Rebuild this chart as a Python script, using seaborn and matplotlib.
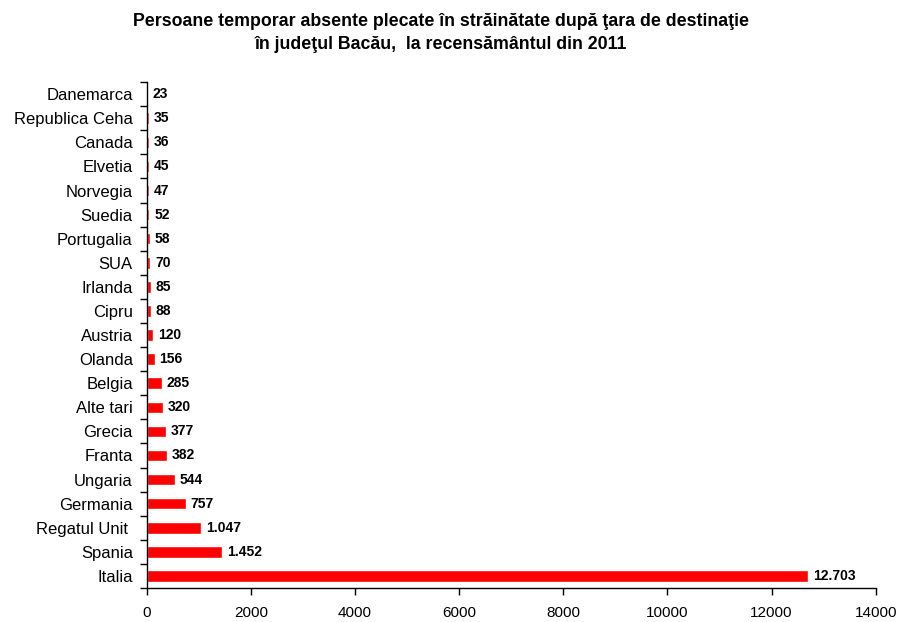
import matplotlib
matplotlib.use("Agg")
import matplotlib.pyplot as plt
import seaborn as sns
import numpy as np
import pandas as pd

# Date: persoane temporar absente, judetul Bacau, 2011
tari = ['Danemarca', 'Republica Ceha', 'Canada', 'Elvetia', 'Norvegia', 'Suedia',
        'Portugalia', 'SUA', 'Irlanda', 'Cipru', 'Austria', 'Olanda', 'Belgia',
        'Alte tari', 'Grecia', 'Franta', 'Ungaria', 'Germania', 'Regatul Unit ',
        'Spania', 'Italia']
persoane = [23, 35, 36, 45, 47, 52, 58, 70, 85, 88, 120, 156, 285, 320, 377,
            382, 544, 757, 1047, 1452, 12703]
x_ticks = [0, 2000, 4000, 6000, 8000, 10000, 12000, 14000]

df = pd.DataFrame({'tara': tari, 'persoane': persoane})

sns.set_style('white')
plt.rcParams['font.family'] = ['Liberation Sans', 'DejaVu Sans']
plt.rcParams['text.color'] = 'black'
plt.rcParams['xtick.color'] = 'black'
plt.rcParams['ytick.color'] = 'black'

fig = plt.figure(figsize=(9, 6.22), dpi=100)
ax = fig.add_axes([0.163, 0.0547, 0.81, 0.8133])

sns.barplot(data=df, x='persoane', y='tara', orient='h', color='#ff0000',
            saturation=1, width=0.48, ax=ax)

# etichete valori
for i, v in enumerate(persoane):
    txt = f'{v:,}'.replace(',', '.')
    ax.text(v + 90, i, txt, va='center', ha='left', fontsize=10,
            fontweight='bold', color='black')

ax.set_xlim(0, 14000)
ax.set_ylim(len(tari) - 0.5, -0.5)
ax.set_xticks(x_ticks)
ax.set_xticklabels([str(t) for t in x_ticks], fontsize=11)
ax.set_xlabel('')
ax.set_ylabel('')
ax.tick_params(axis='y', which='major', left=False, length=0, labelsize=12, pad=10)
ax.set_yticks(np.arange(-0.5, len(tari), 1), minor=True)
ax.tick_params(axis='y', which='minor', left=True, length=5, width=1,
               color='black', direction='out')
ax.tick_params(axis='x', bottom=True, length=5, width=1, color='black',
               direction='out', pad=8)

for s in ['top', 'right']:
    ax.spines[s].set_visible(False)
for s in ['left', 'bottom']:
    ax.spines[s].set_color('black')
    ax.spines[s].set_linewidth(1)

fig.text(0.49, 0.965, 'Persoane temporar absente plecate în străinătate după ţara de destinaţie',
         ha='center', va='center', fontsize=12.8, fontweight='bold')
fig.text(0.49, 0.928, 'în judeţul Bacău,  la recensământul din 2011',
         ha='center', va='center', fontsize=12.8, fontweight='bold')

plt.savefig('out.png', dpi=100)
